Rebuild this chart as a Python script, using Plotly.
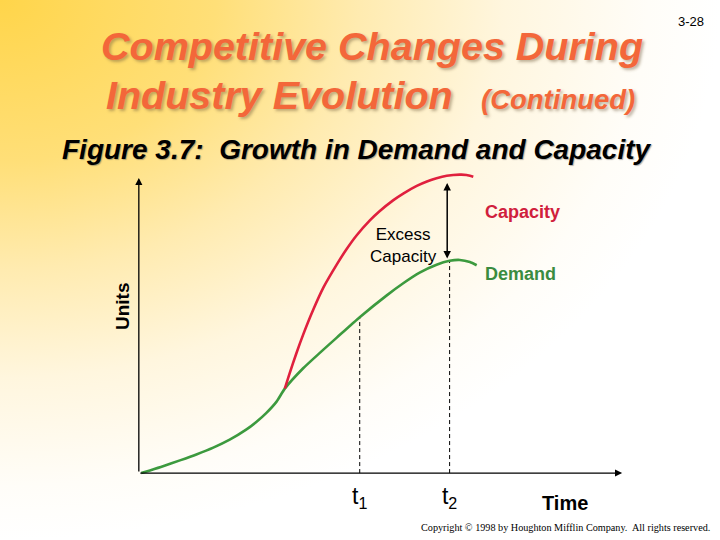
import base64
import numpy as np
import plotly.graph_objects as go

# ---------------- data (arbitrary units) ----------------
demand_x = [0.5, 2.3, 5.0, 8.5, 11.9, 15.4, 18.8, 22.2, 24.3, 26.4, 28.5, 30.2,
            34.0, 37.5, 40.9, 45.7, 51.3, 54.7, 58.1, 61.6, 64.3, 66.4, 68.5, 69.9]
demand_y = [0.0, 0.9, 2.3, 4.3, 6.3, 8.6, 11.3, 14.7, 17.3, 20.4, 24.2, 28.6,
            35.5, 40.8, 45.8, 52.8, 60.2, 64.3, 67.9, 70.6, 71.9, 72.2, 71.5, 70.4]

capacity_x = [30.2, 31.2, 32.6, 34.0, 36.1, 38.2, 41.0, 43.0, 45.0, 47.8, 49.8,
              52.6, 54.7, 57.5, 59.6, 61.6, 63.7, 66.4, 67.8, 69.2]
capacity_y = [28.6, 33.8, 40.6, 46.9, 55.4, 62.9, 70.8, 75.9, 80.4, 85.6, 88.7,
              92.4, 94.7, 97.3, 98.8, 99.9, 100.7, 101.1, 101.0, 100.4]

t_positions = [45.7, 64.3]
t_labels = ["t<sub>1</sub>", "t<sub>2</sub>"]

excess_x = [63.8]
excess_low = [72.2]
excess_high = [98.3]

axis_end = [100, 100]   # x-axis end, y-axis end

# ---------------- layout geometry ----------------
W, H = 720, 540
ML, MR, MT, MB = 134, 93, 172, 64
PW, PH = W - ML - MR, H - MT - MB
XR = [-1, 101]
YR = [-1, 102]


def pp(xp, yp):
    """pixel -> paper coordinates"""
    return (xp - ML) / PW, (H - MB - yp) / PH


FONT = "Liberation Sans, Arial, sans-serif"
RED = "#E0203E"
GREEN = "#3C9A3E"

# background gradient as inline SVG
svg = """<svg xmlns="http://www.w3.org/2000/svg" width="720" height="540" viewBox="0 0 720 540" preserveAspectRatio="none">
<defs><radialGradient id="g" cx="0" cy="0" r="1" gradientUnits="objectBoundingBox">
<stop offset="0" stop-color="#FFD54A"/>
<stop offset="0.3" stop-color="#FFDF78"/>
<stop offset="0.5" stop-color="#FFEBB0"/>
<stop offset="0.7" stop-color="#FFF6DE"/>
<stop offset="0.9" stop-color="#FFFDF8"/>
<stop offset="1" stop-color="#FFFFFF"/>
</radialGradient></defs>
<rect x="0" y="0" width="720" height="540" fill="url(#g)"/></svg>"""
bg_src = "data:image/svg+xml;base64," + base64.b64encode(svg.encode()).decode()

fig = go.Figure()

# dashed guide lines at t1, t2 (up to the demand curve)
t_tops = list(np.interp(t_positions, demand_x, demand_y))
for tx, ty in zip(t_positions, t_tops):
    fig.add_trace(go.Scatter(x=[tx, tx], y=[0, ty], mode="lines",
                             line=dict(color="black", width=1, dash="4px,3px"),
                             hoverinfo="skip", showlegend=False))

fig.add_trace(go.Scatter(x=demand_x, y=demand_y, mode="lines", name="Demand",
                         line=dict(color=GREEN, width=2.6, shape="spline", smoothing=0.6),
                         showlegend=False, cliponaxis=False))
fig.add_trace(go.Scatter(x=capacity_x, y=capacity_y, mode="lines", name="Capacity",
                         line=dict(color=RED, width=2.6, shape="spline", smoothing=0.6),
                         showlegend=False, cliponaxis=False))

ann = []
# axes with arrowheads
ann.append(dict(x=axis_end[0], y=0, ax=0, ay=0, xref="x", yref="y", axref="x", ayref="y",
                text="", showarrow=True, arrowhead=2, arrowsize=1.1, arrowwidth=1.3,
                arrowcolor="black", standoff=0))
ann.append(dict(x=0, y=axis_end[1], ax=0, ay=0, xref="x", yref="y", axref="x", ayref="y",
                text="", showarrow=True, arrowhead=2, arrowsize=1.1, arrowwidth=1.3,
                arrowcolor="black", standoff=0))
# excess capacity double arrow
ann.append(dict(x=excess_x[0], y=excess_high[0], ax=excess_x[0], ay=excess_low[0],
                xref="x", yref="y", axref="x", ayref="y", text="", showarrow=True,
                arrowhead=2, startarrowhead=2, arrowside="end+start", arrowsize=1.0,
                startarrowsize=1.0, arrowwidth=1.5, arrowcolor="black", standoff=0, startstandoff=0))

# curve labels
ann.append(dict(x=71.2, y=88.5, xref="x", yref="y", text="Capacity", showarrow=False,
                xanchor="left", yanchor="middle",
                font=dict(family=FONT, size=18, color="#D0203C", weight="bold")))
ann.append(dict(x=71.2, y=67.5, xref="x", yref="y", text="Demand", showarrow=False,
                xanchor="left", yanchor="middle",
                font=dict(family=FONT, size=18, color="#3A8C40", weight="bold")))
ann.append(dict(x=54.7, y=77.0, xref="x", yref="y", text="Excess<br>Capacity", showarrow=False,
                xanchor="center", yanchor="middle",
                font=dict(family=FONT, size=17, color="black")))

# axis titles
x, y = pp(565, 503)
ann.append(dict(x=x, y=y, xref="paper", yref="paper", text="Time", showarrow=False,
                xanchor="center", yanchor="middle",
                font=dict(family=FONT, size=20, color="black", weight="bold")))
x, y = pp(122, 306)
ann.append(dict(x=x, y=y, xref="paper", yref="paper", text="Units", showarrow=False,
                textangle=-90, xanchor="center", yanchor="middle",
                font=dict(family=FONT, size=19, color="black", weight="bold")))

# titles
shadow = "2px 2px 3px rgba(110,90,60,0.45)"
TITLE_C = "#F3673A"
x, y = pp(371.5, 46)
ann.append(dict(x=x, y=y, xref="paper", yref="paper", text="Competitive Changes During",
                showarrow=False, xanchor="center", yanchor="middle",
                font=dict(family=FONT, size=39.5, color=TITLE_C, weight="bold", style="italic",
                          shadow=shadow)))
x, y = pp(104, 95)
ann.append(dict(x=x, y=y, xref="paper", yref="paper", text="Industry Evolution",
                showarrow=False, xanchor="left", yanchor="middle",
                font=dict(family=FONT, size=39.5, color=TITLE_C, weight="bold", style="italic",
                          shadow=shadow)))
x, y = pp(479, 99)
ann.append(dict(x=x, y=y, xref="paper", yref="paper", text="(Continued)",
                showarrow=False, xanchor="left", yanchor="middle",
                font=dict(family=FONT, size=27.5, color=TITLE_C, weight="bold", style="italic",
                          shadow=shadow)))
x, y = pp(356.5, 150)
ann.append(dict(x=x, y=y, xref="paper", yref="paper",
                text="Figure 3.7:\u00a0 Growth in Demand and Capacity",
                showarrow=False, xanchor="center", yanchor="middle",
                font=dict(family=FONT, size=28, color="black", weight="bold", style="italic",
                          shadow="1px 1px 1px rgba(80,80,80,0.45)")))
x, y = pp(706, 21)
ann.append(dict(x=x, y=y, xref="paper", yref="paper", text="3-28", showarrow=False,
                xanchor="right", yanchor="middle",
                font=dict(family=FONT, size=13, color="black")))
x, y = pp(712, 527)
ann.append(dict(x=x, y=y, xref="paper", yref="paper",
                text="Copyright \u00a9 1998 by Houghton Mifflin Company.\u00a0 All rights reserved.",
                showarrow=False, xanchor="right", yanchor="middle",
                font=dict(family="Liberation Serif, Times New Roman, serif", size=10.2, color="black")))

x0, y0 = pp(0, 0)
fig.update_layout(
    width=W, height=H,
    margin=dict(l=ML, r=MR, t=MT, b=MB, pad=0),
    paper_bgcolor="white", plot_bgcolor="rgba(0,0,0,0)",
    showlegend=False,
    annotations=ann,
    images=[dict(source=bg_src, xref="paper", yref="paper", x=x0, y=y0,
                 sizex=W / PW, sizey=H / PH, xanchor="left", yanchor="top",
                 sizing="stretch", layer="below")],
    xaxis=dict(range=XR, showgrid=False, zeroline=False, showline=False,
               tickmode="array", tickvals=t_positions, ticktext=t_labels, ticks="",
               ticklabelstandoff=4,
               tickfont=dict(family=FONT, size=23, color="black"), fixedrange=True),
    yaxis=dict(range=YR, showgrid=False, zeroline=False, showline=False,
               showticklabels=False, ticks="", fixedrange=True),
)

fig.write_html("out.html", config={"displayModeBar": False},
               post_script="document.body.style.margin='0px';document.body.style.padding='0px';")
